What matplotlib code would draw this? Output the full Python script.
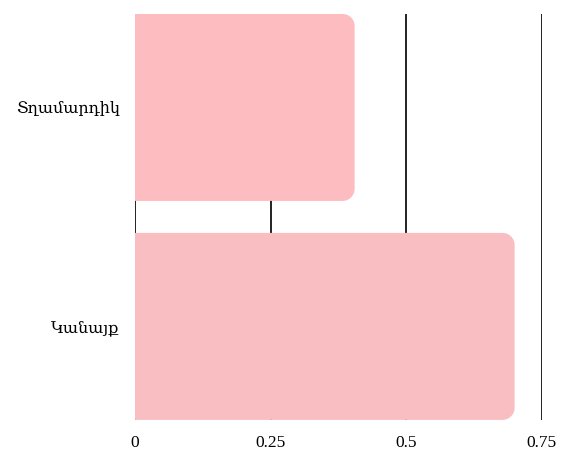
import matplotlib
matplotlib.use('Agg')
import matplotlib.pyplot as plt
from matplotlib.path import Path
from matplotlib.patches import PathPatch

# data
categories = ['Տղամարդիկ', 'Կանայք']
values = [0.405, 0.70]
colors = ['#fdbdc0', '#f9bec1']
xticks = [0, 0.25, 0.5, 0.75]
xtick_labels = ['0', '0.25', '0.5', '0.75']

plt.rcParams['font.family'] = ['Liberation Serif', 'DejaVu Serif']

fig = plt.figure(figsize=(5.72, 4.65), dpi=100)
ax = fig.add_axes([0.236, 0.097, 0.711, 0.873])

bar_h = 0.854
ax.set_xlim(0, 0.75)
ax.set_ylim(1 + bar_h / 2, -bar_h / 2)


def rounded_bar(ax, y, w, h, color, r_px=12):
    # radius in data units, from axes size in pixels
    fig.canvas.draw()
    bb = ax.get_window_extent()
    x0, x1 = ax.get_xlim()
    y0, y1 = ax.get_ylim()
    rx = r_px * abs(x1 - x0) / bb.width
    ry = r_px * abs(y1 - y0) / bb.height
    top, bot = y - h / 2, y + h / 2
    k = 0.5523
    verts = [
        (0, top), (w - rx, top),
        (w - rx + k * rx, top), (w, top + ry - k * ry), (w, top + ry),
        (w, bot - ry),
        (w, bot - ry + k * ry), (w - rx + k * rx, bot), (w - rx, bot),
        (0, bot), (0, top),
    ]
    codes = [Path.MOVETO, Path.LINETO,
             Path.CURVE4, Path.CURVE4, Path.CURVE4,
             Path.LINETO,
             Path.CURVE4, Path.CURVE4, Path.CURVE4,
             Path.LINETO, Path.CLOSEPOLY]
    ax.add_patch(PathPatch(Path(verts, codes), facecolor=color,
                           edgecolor='none', zorder=3))


for i, (v, c) in enumerate(zip(values, colors)):
    rounded_bar(ax, i, v, bar_h, c)

ax.set_yticks(range(len(categories)))
ax.set_yticklabels(categories, fontsize=11.5)
ax.set_xticks(xticks)
ax.set_xticklabels(xtick_labels, fontsize=12.5)
ax.tick_params(axis='both', length=0)
ax.tick_params(axis='y', pad=11)
ax.tick_params(axis='x', pad=11)
ax.xaxis.grid(True, color='#222222', linewidth=1.4, zorder=0)
ax.set_axisbelow(True)
for s in ax.spines.values():
    s.set_visible(False)

fig.savefig('out.png', dpi=100)
